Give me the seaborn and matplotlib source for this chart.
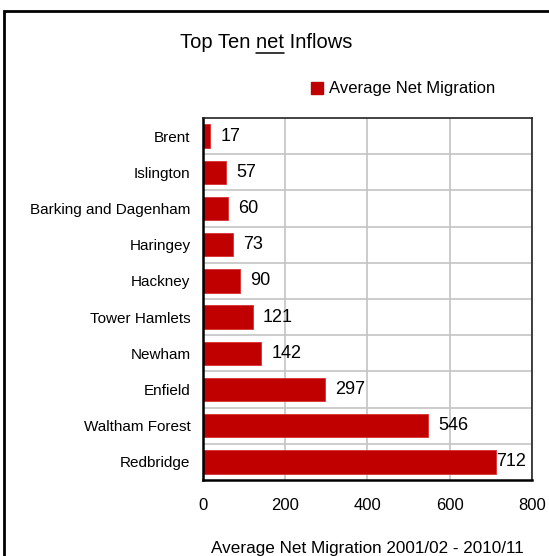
import matplotlib
matplotlib.use("Agg")
import matplotlib.pyplot as plt
import seaborn as sns
import pandas as pd
from matplotlib.patches import Rectangle, Patch
from matplotlib.lines import Line2D

boroughs = ["Brent", "Islington", "Barking and Dagenham", "Haringey", "Hackney",
            "Tower Hamlets", "Newham", "Enfield", "Waltham Forest", "Redbridge"]
net_migration = [17, 57, 60, 73, 90, 121, 142, 297, 546, 712]
x_ticks = [0, 200, 400, 600, 800]

df = pd.DataFrame({"Borough": boroughs, "Average Net Migration": net_migration})

sns.set_theme(style="white")
plt.rcParams['font.family'] = ['Liberation Sans', 'DejaVu Sans']
plt.rcParams['text.color'] = 'black'
plt.rcParams['axes.labelcolor'] = 'black'
plt.rcParams['xtick.color'] = 'black'
plt.rcParams['ytick.color'] = 'black'

fig = plt.figure(figsize=(5.49, 5.56), dpi=100)
W, H = 549, 556
ax = fig.add_axes([203 / W, 1 - 480 / H, (532 - 203) / W, (480 - 118) / H])

bar_color = "#C00000"
sns.barplot(data=df, y="Borough", x="Average Net Migration", orient="h",
            color=bar_color, width=0.65, ax=ax, saturation=1,
            edgecolor="#D83030", linewidth=0.6)

ax.set_xlim(0, 800)
ax.set_ylim(len(boroughs) - 0.5, -0.5)
ax.set_xticks(x_ticks)
ax.set_xticklabels([str(t) for t in x_ticks], fontsize=12)
ax.tick_params(axis="x", direction="out", length=5, width=1, color="black", pad=8)
ax.set_yticks(range(len(boroughs)))
ax.set_yticklabels(boroughs, fontsize=11)
ax.tick_params(axis="y", length=0, pad=9)
ax.set_yticks([i + 0.5 for i in range(len(boroughs) - 1)], minor=True)
ax.tick_params(axis="y", which="minor", length=0)
ax.grid(axis="x", which="major", color="#C4C4C4", linewidth=1.2)
ax.grid(axis="y", which="minor", color="#C4C4C4", linewidth=1.2)
ax.grid(axis="y", which="major", visible=False)
ax.set_axisbelow(True)
ax.set_ylabel("")
ax.set_xlabel("Average Net Migration 2001/02 - 2010/11", fontsize=12.3, labelpad=20)

for side in ["left", "bottom"]:
    ax.spines[side].set_color("black")
    ax.spines[side].set_linewidth(1.8)
for side in ["top", "right"]:
    ax.spines[side].set_color("#222222")
    ax.spines[side].set_linewidth(1.2)

for i, v in enumerate(net_migration):
    xl = min(v + 25, 712)
    ax.text(xl, i, str(v), ha="left", va="center", fontsize=13)

# Title with underlined "net"
title_fs = 14.5
tx, ty = 266 / W, 1 - 43 / H
title = fig.text(tx, ty, "Top Ten net Inflows", ha="center", va="center", fontsize=title_fs)
renderer = fig.canvas.get_renderer()

def text_width(s):
    t = fig.text(0, 0, s, fontsize=title_fs)
    w = t.get_window_extent(renderer).width
    t.remove()
    return w

full_w = text_width("Top Ten net Inflows")
pre_w = text_width("Top Ten n") - text_width("n")
net_w = text_width("net")
x0_px = tx * W - full_w / 2 + pre_w
y_px = (1 - 53 / H) * H
fig.add_artist(Line2D([x0_px / W, (x0_px + net_w) / W], [y_px / H, y_px / H],
                      transform=fig.transFigure, color="black", linewidth=1.1))

handles = [Patch(facecolor=bar_color, edgecolor=bar_color, label="Average Net Migration")]
fig.legend(handles=handles, loc="center left", bbox_to_anchor=(311 / W, 1 - 89 / H),
           frameon=False, fontsize=12, handlelength=0.7, handleheight=0.7,
           handletextpad=0.4, borderpad=0, borderaxespad=0)

fig.patches.append(Rectangle((4 / W, -0.1), 1.2, 1 - 11 / H + 0.1,
                             transform=fig.transFigure, fill=False,
                             edgecolor="black", linewidth=2))

fig.savefig("out.png", dpi=100)
